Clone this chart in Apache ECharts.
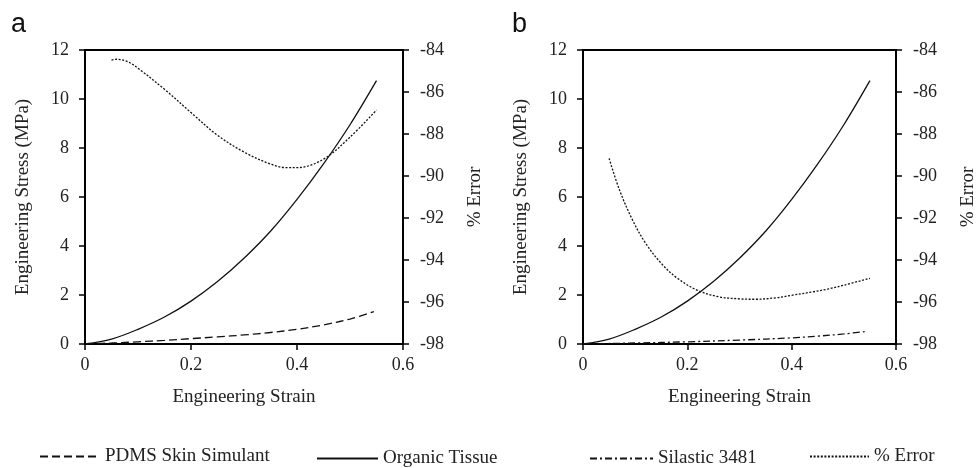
<!DOCTYPE html>
<html>
<head>
<meta charset="utf-8">
<script src="https://cdn.jsdelivr.net/npm/echarts@6/dist/echarts.min.js"></script>
<style>
html,body{margin:0;padding:0;background:#fff;}
#chart{width:979px;height:468px;}
</style>
</head>
<body>
<div id="chart"></div>
<script>
// ---- Data ----
const xTicks = [0, 0.2, 0.4, 0.6];
const stressTicks = [0, 2, 4, 6, 8, 10, 12];
const errorTicks = [-98, -96, -94, -92, -90, -88, -86, -84];

// Organic tissue (same curve in both panels)
const tissueStrain = [0, 0.05, 0.1, 0.15, 0.2, 0.25, 0.3, 0.35, 0.4, 0.45, 0.5, 0.55];
const tissueStress = [0, 0.2, 0.6, 1.1, 1.75, 2.55, 3.5, 4.6, 5.9, 7.35, 8.95, 10.75];

// Panel a: PDMS skin simulant
const pdmsStrain = [0, 0.05, 0.1, 0.15, 0.2, 0.25, 0.3, 0.35, 0.4, 0.45, 0.5, 0.545];
const pdmsStress = [0, 0.04, 0.09, 0.15, 0.22, 0.29, 0.37, 0.47, 0.6, 0.78, 1.02, 1.32];

// Panel a: % error
const errAStrain = [0.05, 0.06, 0.08, 0.1, 0.15, 0.2, 0.25, 0.3, 0.35, 0.38, 0.4, 0.45, 0.5, 0.55];
const errAValue = [-84.48, -84.44, -84.55, -84.87, -85.87, -86.98, -88.06, -88.86, -89.43, -89.6, -89.6, -89.2, -88.15, -86.86];

// Panel b: Silastic 3481
const silStrain = [0, 0.1, 0.2, 0.3, 0.4, 0.45, 0.5, 0.545];
const silStress = [0, 0.04, 0.09, 0.16, 0.25, 0.32, 0.41, 0.52];

// Panel b: % error
const errBStrain = [0.05, 0.07, 0.095, 0.12, 0.15, 0.18, 0.22, 0.26, 0.3, 0.33, 0.37, 0.4, 0.44, 0.47, 0.5, 0.55];
const errBValue = [-89.16, -90.67, -92.1, -93.2, -94.16, -94.85, -95.45, -95.75, -95.85, -95.87, -95.8, -95.68, -95.52, -95.38, -95.2, -94.87];

const legendNames = ['PDMS Skin Simulant', 'Organic Tissue', 'Silastic 3481', '% Error'];
const panelLabels = ['a', 'b'];
const xName = 'Engineering Strain';
const yName = 'Engineering Stress (MPa)';
const y2Name = '% Error';

// ---- Build ----
const pairs = (xs, ys) => xs.map((x, i) => [x, ys[i]]);
const SERIF = 'Liberation Serif';
const TXT = '#222';
const AX = '#000';

function xAxisCfg(gi) {
  return {
    type: 'value', gridIndex: gi, min: xTicks[0], max: xTicks[xTicks.length - 1], interval: 0.2,
    axisLine: { show: true, onZero: false, lineStyle: { color: AX, width: 2 } },
    axisTick: { show: true, length: 6, lineStyle: { color: AX, width: 1.5 } },
    axisLabel: { color: TXT, fontFamily: SERIF, fontSize: 18, margin: 12 },
    splitLine: { show: false },
    name: xName, nameLocation: 'middle', nameGap: 44,
    nameTextStyle: { color: TXT, fontFamily: SERIF, fontSize: 19 }
  };
}
function yLeftCfg(gi) {
  return {
    type: 'value', gridIndex: gi, position: 'left',
    min: stressTicks[0], max: stressTicks[stressTicks.length - 1], interval: 2,
    axisLine: { show: true, onZero: false, lineStyle: { color: AX, width: 2 } },
    axisTick: { show: true, length: 6, lineStyle: { color: AX, width: 1.5 } },
    axisLabel: { color: TXT, fontFamily: SERIF, fontSize: 18, margin: 16 },
    splitLine: { show: false },
    name: yName, nameLocation: 'middle', nameGap: 52,
    nameTextStyle: { color: TXT, fontFamily: SERIF, fontSize: 19 }
  };
}
function yRightCfg(gi) {
  return {
    type: 'value', gridIndex: gi, position: 'right',
    min: errorTicks[0], max: errorTicks[errorTicks.length - 1], interval: 2,
    axisLine: { show: true, onZero: false, lineStyle: { color: AX, width: 2 } },
    axisTick: { show: true, length: 6, lineStyle: { color: AX, width: 1.5 } },
    axisLabel: { color: TXT, fontFamily: SERIF, fontSize: 18, margin: 17 },
    splitLine: { show: false },
    name: y2Name, nameLocation: 'middle', nameGap: 63,
    nameTextStyle: { color: TXT, fontFamily: SERIF, fontSize: 19 }
  };
}
function line(name, xi, yi, data, type) {
  return {
    name, type: 'line', xAxisIndex: xi, yAxisIndex: yi, data,
    smooth: 0.35, symbol: 'none', animation: false,
    lineStyle: { color: '#111', width: 1.3, type },
    itemStyle: { color: '#111' }
  };
}
const dashPDMS = [8, 4];
const dashSil = [7, 3, 2, 3];
const dashErr = [2, 1.6];

const legendStyle = { color: TXT, fontFamily: SERIF, fontSize: 19 };
function legendCfg(name, left, top, w) {
  return {
    data: [name], left, top, itemWidth: w, itemHeight: 14, itemGap: 0,
    textStyle: legendStyle, selectedMode: false,
    itemStyle: { opacity: 0 }
  };
}
const titleStyle = { fontFamily: 'Liberation Sans', fontSize: 27, fontWeight: 'normal', color: '#111' };
const option = {
  backgroundColor: '#fff',
  animation: false,
  title: [
    { text: panelLabels[0], left: 11, top: 11, padding: 0, textStyle: titleStyle },
    { text: panelLabels[1], left: 512, top: 11, padding: 0, textStyle: titleStyle }
  ],
  grid: [
    { left: 85, top: 50, width: 318, height: 294, show: true, borderColor: AX, borderWidth: 2, backgroundColor: 'transparent' },
    { left: 583, top: 50, width: 319, height: 294, show: true, borderColor: AX, borderWidth: 2, backgroundColor: 'transparent' }
  ],
  xAxis: [xAxisCfg(0), xAxisCfg(1)],
  yAxis: [yLeftCfg(0), yRightCfg(0), yLeftCfg(1), yRightCfg(1)],
  legend: [
    legendCfg(legendNames[0], 34, 442, 60),
    legendCfg(legendNames[1], 311, 444, 61),
    legendCfg(legendNames[2], 584, 444, 63),
    legendCfg(legendNames[3], 804, 442, 59)
  ],
  series: [
    line(legendNames[0], 0, 0, pairs(pdmsStrain, pdmsStress), dashPDMS),
    line(legendNames[1], 0, 0, pairs(tissueStrain, tissueStress), 'solid'),
    line(legendNames[3], 0, 1, pairs(errAStrain, errAValue), dashErr),
    line(legendNames[2], 1, 2, pairs(silStrain, silStress), dashSil),
    line(legendNames[1], 1, 2, pairs(tissueStrain, tissueStress), 'solid'),
    line(legendNames[3], 1, 3, pairs(errBStrain, errBValue), dashErr)
  ]
};
const chart = echarts.init(document.getElementById('chart'), null, { renderer: 'canvas' });
chart.setOption(option);
</script>
</body>
</html>
